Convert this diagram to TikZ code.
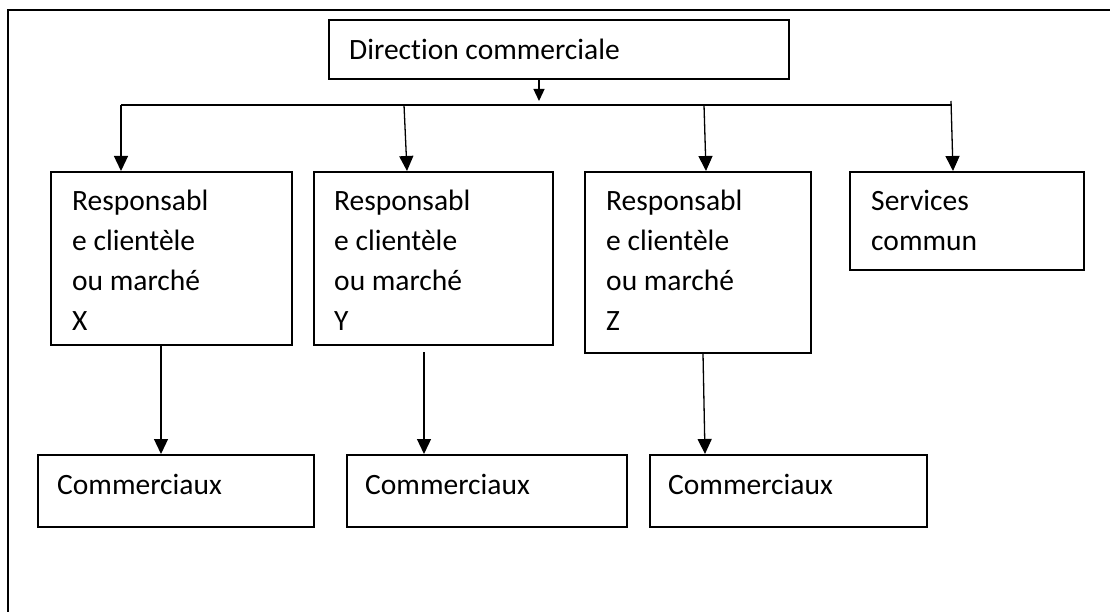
\documentclass[tikz,border=0pt]{standalone}
\usepackage{fontspec}
\setmainfont[Ligatures=NoCommon]{Carlito}
\usetikzlibrary{arrows.meta,calc}
\begin{document}
\begin{tikzpicture}[x=1pt,y=-1pt,
  box/.style={draw, line width=1.7pt, rectangle, inner sep=0pt, anchor=north west},
  txt/.style={anchor=north west, inner sep=0pt, align=left,
              font=\fontsize{29.5pt}{40pt}\selectfont},
  link/.style={line width=1.3pt},
  arr/.style={link, -{Triangle[length=15pt,width=14pt]}},
  smallarr/.style={link, -{Triangle[length=12pt,width=11pt]}}]
\useasboundingbox (0,0) rectangle (1110,612);

% page frame (top and left edges)
\coordinate (fTL) at (8,10);
\coordinate (fTR) at (1110,10);
\coordinate (fBL) at (8,612);
\draw[line width=1.6pt] (fBL) -- (fTL) -- (fTR);

% boxes
\node[box, minimum width=460pt, minimum height=59pt]  (dir) at (328,19) {};
\node[box, minimum width=241pt, minimum height=173pt] (bX)  at (50,171) {};
\node[box, minimum width=239pt, minimum height=173pt] (bY)  at (313,171) {};
\node[box, minimum width=226pt, minimum height=181pt] (bZ)  at (584,171) {};
\node[box, minimum width=234pt, minimum height=98pt]  (bS)  at (849,171) {};
\node[box, minimum width=276pt, minimum height=72pt]  (c1)  at (37,454) {};
\node[box, minimum width=280pt, minimum height=72pt]  (c2)  at (346,454) {};
\node[box, minimum width=277pt, minimum height=72pt]  (c3)  at (649,454) {};

% box texts
\node[txt] (tdir) at (349,31)  {\strut Direction commerciale};
\node[txt] (tX)   at (72,182)  {\strut Responsabl\\e clientèle\\ou marché\\X};
\node[txt] (tY)   at (334,182) {\strut Responsabl\\e clientèle\\ou marché\\Y};
\node[txt] (tZ)   at (606,182) {\strut Responsabl\\e clientèle\\ou marché\\Z};
\node[txt] (tS)   at (871,182) {\strut Services\\commun};
\node[txt] (tc1)  at (57,466)  {\strut Commerciaux};
\node[txt] (tc2)  at (365,466) {\strut Commerciaux};
\node[txt] (tc3)  at (668,466) {\strut Commerciaux};

% distribution bar
\coordinate (hL) at (121,105);
\coordinate (hR) at (951,105);
\coordinate (hY) at (404,105);
\coordinate (hZ) at (704,105);
\coordinate (hS) at (951,101);
\coordinate (dIn) at (539,101);
\draw[link] (hL) -- (hR);
\draw[smallarr] (dir.south west -| dIn) -- (dIn);

% arrows to the managers
\draw[arr] (hL) -- (bX.north west -| hL);
\draw[arr] (hY) -- ($(bY.north west)+(94,0)$);
\draw[arr] (hZ) -- ($(bZ.north west)+(122,0)$);
\draw[arr] (hS) -- ($(bS.north west)+(104,0)$);

% arrows to the sales teams
\coordinate (yS) at (424,352);
\draw[arr] ($(bX.south west)+(111,0)$) -- ($(c1.north west)+(124,0)$);
\draw[arr] (yS) -- (c2.north west -| yS);
\draw[arr] ($(bZ.south west)+(119,0)$) -- ($(c3.north west)+(56,0)$);
\end{tikzpicture}
\end{document}
